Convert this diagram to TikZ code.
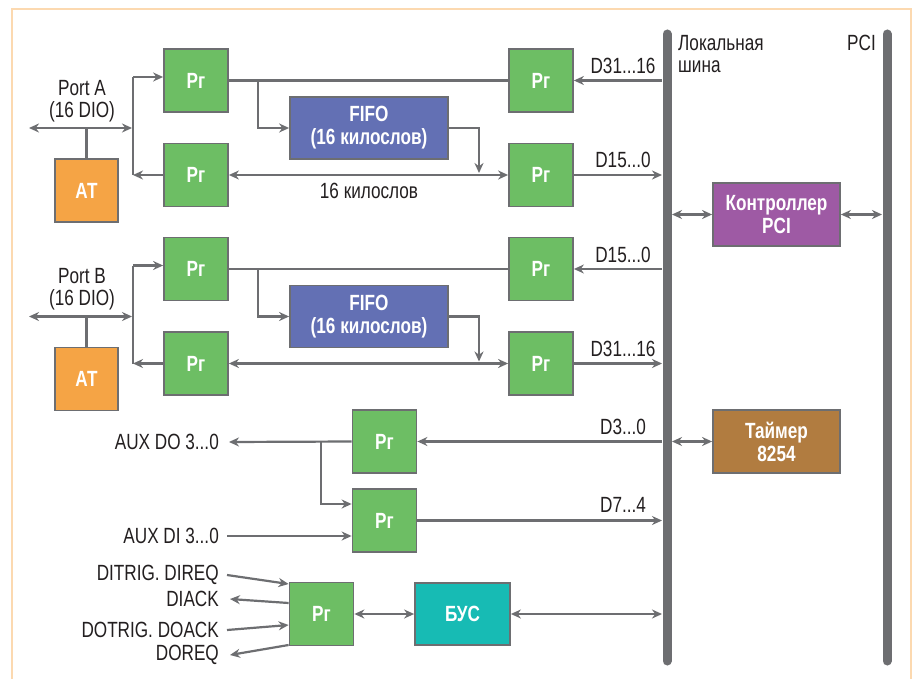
\documentclass[tikz,border=0pt]{standalone}
\usepackage{fontspec}
\setmainfont{Liberation Sans}[FakeStretch=0.78]
\usetikzlibrary{arrows.meta,calc}
\definecolor{linegray}{RGB}{109,110,113}
\definecolor{textgray}{RGB}{35,31,32}
\definecolor{framecol}{RGB}{252,217,176}
\definecolor{rggreen}{RGB}{109,190,100}
\definecolor{fifoblue}{RGB}{99,112,180}
\definecolor{atorange}{RGB}{245,164,69}
\definecolor{ctrlpurple}{RGB}{158,90,164}
\definecolor{timerbrown}{RGB}{177,124,64}
\definecolor{busteal}{RGB}{23,187,180}
\begin{document}
\begin{tikzpicture}[x=1pt, y=-1pt,
    wire/.style={draw=linegray, line width=2.2pt},
    arr/.style={wire, -{Stealth[length=10pt,width=9pt]}},
    darr/.style={wire, {Stealth[length=10pt,width=9pt]}-{Stealth[length=10pt,width=9pt]}},
    box/.style={rectangle, draw=linegray, line width=1.8pt, text=white, align=center,
        inner sep=0pt, font=\fontsize{22}{23}\selectfont\bfseries},
    reg/.style={box, fill=rggreen, minimum width=64pt, minimum height=63pt},
    lbl/.style={text=textgray, inner sep=0pt, font=\fontsize{22}{22}\selectfont}]

    % Page and frame
    \useasboundingbox (0,0) rectangle (915,679);
    \fill[white] (0,0) rectangle (915,679);
    \draw[framecol, line width=2.5pt] (12,9) rectangle (911,700);

    % Buses
    \coordinate (lbusT) at (667,34);
    \coordinate (lbusB) at (667,661);
    \coordinate (pciT) at (887,34);
    \coordinate (pciB) at (887,661);
    \coordinate (lbusL) at (662,0);
    \coordinate (lbusR) at (672,0);
    \coordinate (pciL) at (882,0);
    \draw[linegray, line width=9pt, line cap=round] (lbusT) -- (lbusB);
    \draw[linegray, line width=9pt, line cap=round] (pciT) -- (pciB);
    \node[lbl, anchor=west, align=left] (lbusname) at (678,54) {Локальная\\шина};
    \node[lbl, anchor=east] (pciname) at (876,43) {PCI};

    % Ports A and B
    \foreach \p/\dy/\ih/\il/\oh/\ol in {A/0/31/16/15/0, B/188.5/15/0/31/16} {
        \node[reg] (rg\p1) at (196,80.5+\dy) {Рг};
        \node[reg] (rg\p2) at (196,175+\dy) {Рг};
        \node[reg] (rg\p3) at (541,80.5+\dy) {Рг};
        \node[reg] (rg\p4) at (541,175+\dy) {Рг};
        \node[box, fill=atorange, minimum width=63pt, minimum height=63pt] (at\p) at (86.5,190.5+\dy) {АТ};
        \node[box, fill=fifoblue, minimum width=158pt, minimum height=62pt] (fifo\p) at (369,128+\dy) {FIFO\\(16 килослов)};
        \node[lbl, align=center] (port\p) at (82,101+\dy) {Port \p\\(16 DIO)};
        \node[lbl] (din\p) at (623,66+\dy) {D\ih...\il};
        \node[lbl] (dout\p) at (623,160+\dy) {D\oh...\ol};

        \coordinate (pl\p) at (29,128+\dy);
        \coordinate (pr\p) at (132,128+\dy);
        \coordinate (jt\p) at (133,77+\dy);
        \coordinate (jb\p) at (133,175+\dy);
        \coordinate (br\p) at (258,128+\dy);
        \coordinate (fo\p) at (479,173+\dy);

        \draw[darr] (pl\p) -- (pr\p);
        \draw[wire] (at\p.north) -- (at\p.north |- pl\p);
        \draw[wire] (jt\p) -- (jb\p);
        \draw[arr] (jt\p) -- (rg\p1.west |- jt\p);
        \draw[arr] (rg\p2.west) -- (jb\p);
        \draw[wire] (rg\p1.east) -- (rg\p3.west);
        \draw[arr] (br\p |- rg\p1.east) -- (br\p) -- (fifo\p.west);
        \draw[arr] (fifo\p.east) -| (fo\p);
        \draw[darr] (rg\p2.east) -- (rg\p4.west);
        \draw[arr] (rg\p3.east -| lbusL) -- (rg\p3.east);
        \draw[arr] (rg\p4.east) -- (rg\p4.east -| lbusL);
    }
    \node[lbl] (kwords) at (369,191) {16 килослов};

    % PCI controller and timer
    \node[box, fill=ctrlpurple, minimum width=127pt, minimum height=63pt] (ctrl) at (776.5,214.5) {Контроллер\\PCI};
    \node[box, fill=timerbrown, minimum width=127pt, minimum height=63pt] (timer) at (776.5,441.5) {Таймер\\8254};
    \draw[darr] (ctrl.west -| lbusR) -- (ctrl.west);
    \draw[darr] (ctrl.east) -- (ctrl.east -| pciL);
    \draw[darr] (timer.west -| lbusR) -- (timer.west);

    % AUX registers
    \node[reg] (rgD1) at (384.5,441.5) {Рг};
    \node[reg] (rgD2) at (384.5,520.5) {Рг};
    \node[lbl, anchor=east] (auxdo) at (219,442) {AUX DO 3...0};
    \node[lbl, anchor=east] (auxdi) at (219,536) {AUX DI 3...0};
    \node[lbl] (d3) at (623,427) {D3...0};
    \node[lbl] (d7) at (623,505) {D7...4};
    \coordinate (brD) at (321,504);
    \draw[arr] (rgD1.east -| lbusL) -- (rgD1.east);
    \draw[arr] (rgD1.west) -- ([xshift=10pt]auxdo.east);
    \draw[arr] (brD |- rgD1.west) -- (brD) -- (rgD2.west |- brD);
    \draw[arr] ([xshift=8pt]auxdi.east) -- (rgD2.west |- auxdi);
    \draw[arr] (rgD2.east) -- (rgD2.east -| lbusL);

    % Sync register and bus control
    \node[reg] (rgS) at (321.5,614) {Рг};
    \node[box, fill=busteal, minimum width=95pt, minimum height=62pt] (bu) at (462.5,614) {БУС};
    \node[lbl, anchor=east] (direq) at (219,575) {DITRIG. DIREQ};
    \node[lbl, anchor=east] (diack) at (219,599) {DIACK};
    \node[lbl, anchor=east] (doack) at (219,630) {DOTRIG. DOACK};
    \node[lbl, anchor=east] (doreq) at (219,655) {DOREQ};
    \draw[arr] ([xshift=8pt]direq.east) -- ($(rgS.west)+(0,-30)$);
    \draw[arr] ($(rgS.west)+(0,-11)$) -- ([xshift=11pt]diack.east);
    \draw[arr] ([xshift=8pt]doack.east) -- ($(rgS.west)+(0,11)$);
    \draw[arr] ($(rgS.west)+(0,31)$) -- ([xshift=11pt]doreq.east);
    \draw[darr] (rgS.east) -- (bu.west);
    \draw[darr] (bu.east) -- (bu.east -| lbusL);
\end{tikzpicture}
\end{document}
